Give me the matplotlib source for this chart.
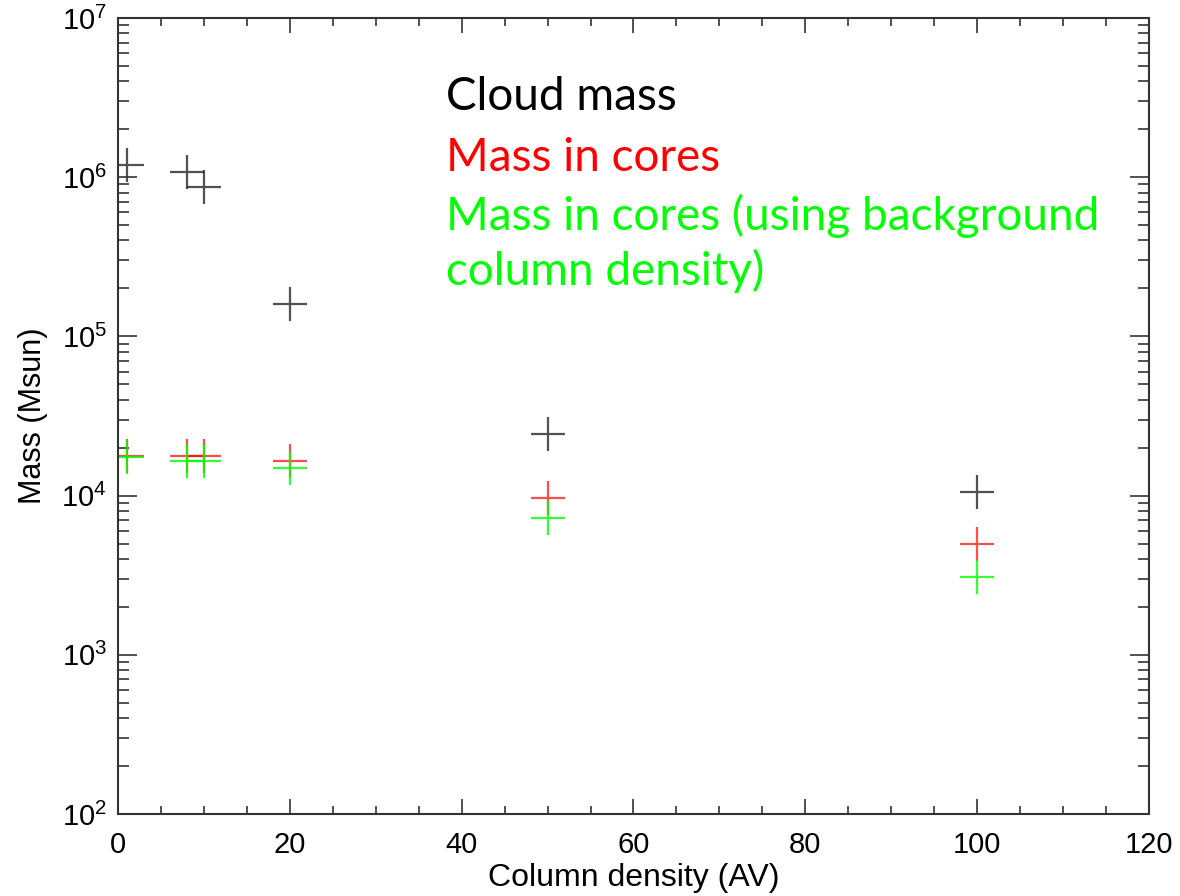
import matplotlib
matplotlib.use("Agg")
import matplotlib.pyplot as plt
from matplotlib.ticker import LogLocator, MultipleLocator, NullFormatter
import numpy as np

# column density (AV) thresholds
av_cloud = [1, 8, 10, 20, 50, 100]
mass_cloud = [1.2e6, 1.08e6, 8.7e5, 1.6e5, 2.45e4, 1.06e4]

av_cores = [1, 8, 10, 20, 50, 100]
mass_cores = [1.76e4, 1.76e4, 1.76e4, 1.64e4, 9.6e3, 5.0e3]
mass_cores_bg = [1.75e4, 1.66e4, 1.66e4, 1.48e4, 7.2e3, 3.07e3]

labels = ["Cloud mass", "Mass in cores",
          "Mass in cores (using background\ncolumn density)"]
label_colors = ["black", "#ff0000", "#00ff00"]

plt.rcParams['font.family'] = ['Liberation Sans', 'DejaVu Sans']
plt.rcParams['mathtext.fontset'] = 'custom'
plt.rcParams['mathtext.rm'] = 'Liberation Sans'
plt.rcParams['mathtext.it'] = 'Liberation Sans'

fig = plt.figure(figsize=(11.8, 8.96), dpi=100)
ax = fig.add_axes([0.1, 0.0915, 0.8737, 0.8885])

ms = 24
mew = 1.6
ax.plot(av_cloud, mass_cloud, '+', color='#333333', alpha=0.85, ms=ms, mew=mew)
ax.plot(av_cores, mass_cores, '+', color='#ff0000', alpha=0.7, ms=ms, mew=mew)
ax.plot(av_cores, mass_cores_bg, '+', color='#00ff00', alpha=0.8, ms=ms, mew=mew)

ax.set_yscale('log')
ax.set_xlim(0, 120)
ax.set_ylim(1e2, 1e7)

ax.xaxis.set_major_locator(MultipleLocator(20))
ax.xaxis.set_minor_locator(MultipleLocator(5))
ax.yaxis.set_major_locator(LogLocator(base=10, numticks=10))
ax.yaxis.set_minor_locator(LogLocator(base=10, subs=np.arange(2, 10), numticks=20))
ax.yaxis.set_minor_formatter(NullFormatter())

ax.tick_params(which='both', direction='in', top=True, right=True, width=1.2,
               colors='#333333', labelcolor='black', labelsize=21)
ax.tick_params(which='major', length=14, pad=8)
ax.tick_params(which='minor', length=8)
ax.tick_params(axis='x', which='major', length=11)
ax.tick_params(axis='x', which='minor', length=6)
ax.tick_params(axis='x', pad=12)
for s in ax.spines.values():
    s.set_linewidth(1.5)
    s.set_color('#333333')

ax.set_xlabel("Column density (AV)", fontsize=23, labelpad=3)
ax.set_ylabel("Mass (Msun)", fontsize=22, labelpad=10)

ys = [0.901, 0.824, 0.717]
for txt, c, y in zip(labels, label_colors, ys):
    ax.text(0.318, y, txt, color=c, transform=ax.transAxes, fontsize=33,
            family=['Lato', 'DejaVu Sans'], va='center', ha='left', linespacing=1.3)

fig.savefig("out.png", dpi=100)
